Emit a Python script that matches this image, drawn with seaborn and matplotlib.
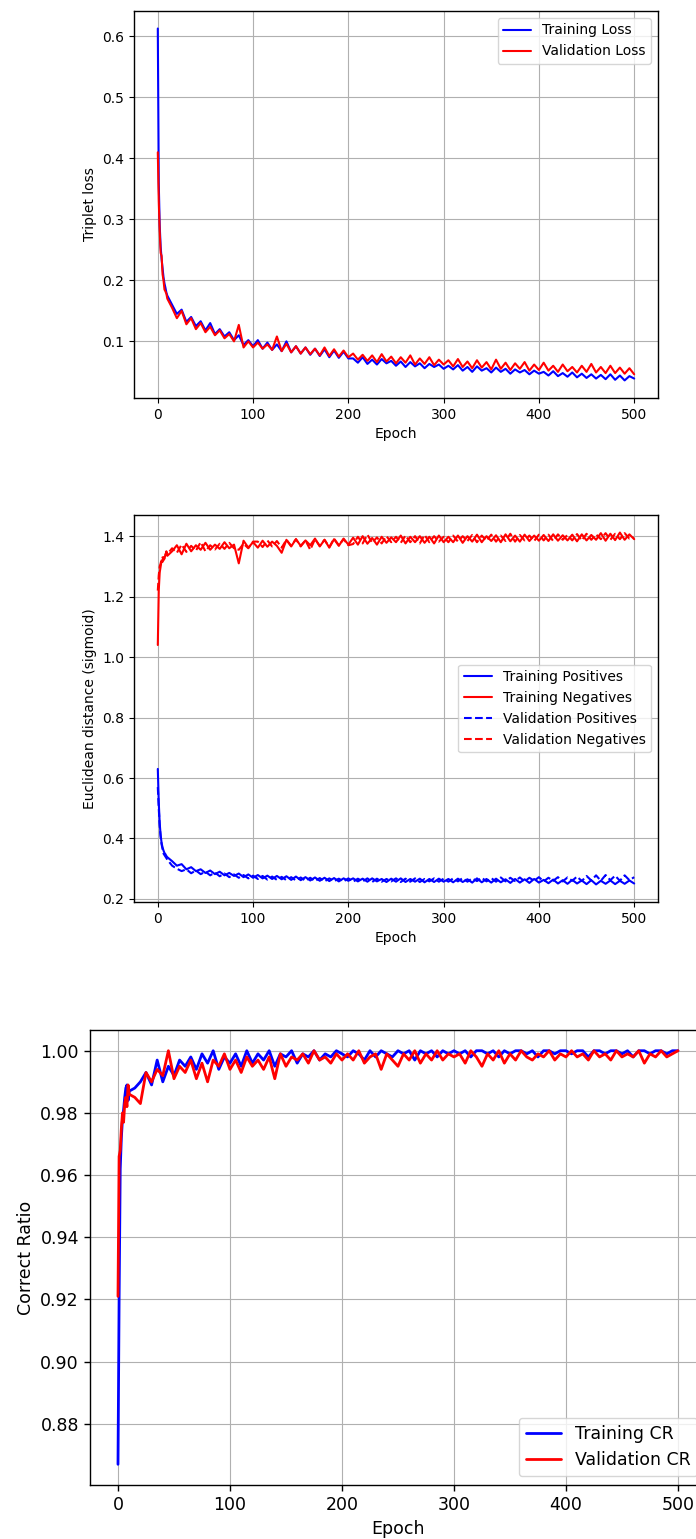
import matplotlib
matplotlib.use("Agg")
import matplotlib.pyplot as plt
import seaborn as sns

epochs = list(range(0, 11)) + list(range(15, 501, 5))

# --- triplet loss ---
train_loss = [0.613, 0.36, 0.29, 0.255, 0.235, 0.22, 0.205, 0.195, 0.188, 0.18, 0.175,
              0.16, 0.145, 0.152, 0.132, 0.14, 0.125, 0.133, 0.118, 0.13, 0.112, 0.12, 0.108, 0.115, 0.102, 0.11, 0.094, 0.102, 0.092,
              0.102, 0.088, 0.098, 0.086, 0.095, 0.084, 0.1, 0.082, 0.092, 0.08, 0.09, 0.078, 0.088, 0.076, 0.087, 0.074, 0.085, 0.073, 0.083, 0.072,
              0.072, 0.065, 0.074, 0.063, 0.07, 0.062, 0.071, 0.064, 0.068, 0.06, 0.067, 0.058, 0.066, 0.059, 0.064, 0.056, 0.063, 0.058, 0.062, 0.055,
              0.06, 0.054, 0.061, 0.052, 0.058, 0.05, 0.059, 0.052, 0.056, 0.049, 0.057, 0.05, 0.055, 0.047, 0.054, 0.049, 0.053, 0.046, 0.052, 0.047,
              0.05, 0.044, 0.051, 0.043, 0.048, 0.042, 0.049, 0.041, 0.047, 0.04, 0.046, 0.039, 0.045, 0.038, 0.046, 0.037, 0.044, 0.036, 0.043, 0.039]
val_loss = [0.41, 0.33, 0.28, 0.245, 0.24, 0.21, 0.2, 0.185, 0.182, 0.178, 0.17,
            0.155, 0.138, 0.15, 0.128, 0.138, 0.12, 0.13, 0.115, 0.124, 0.11, 0.118, 0.105, 0.112, 0.1, 0.127, 0.09, 0.1, 0.09,
            0.098, 0.088, 0.095, 0.086, 0.108, 0.084, 0.096, 0.082, 0.092, 0.08, 0.09, 0.079, 0.088, 0.077, 0.09, 0.076, 0.087, 0.075, 0.085, 0.074,
            0.08, 0.07, 0.078, 0.068, 0.077, 0.066, 0.079, 0.067, 0.075, 0.064, 0.074, 0.065, 0.077, 0.062, 0.072, 0.063, 0.074, 0.061, 0.07, 0.062,
            0.069, 0.059, 0.071, 0.058, 0.067, 0.056, 0.069, 0.057, 0.066, 0.054, 0.07, 0.055, 0.065, 0.053, 0.064, 0.055, 0.066, 0.052, 0.062, 0.053,
            0.065, 0.052, 0.06, 0.05, 0.062, 0.051, 0.058, 0.049, 0.06, 0.05, 0.063, 0.049, 0.058, 0.048, 0.06, 0.048, 0.057, 0.047, 0.056, 0.046]

# --- euclidean distances ---
train_pos = [0.63, 0.52, 0.45, 0.41, 0.385, 0.37, 0.36, 0.352, 0.348, 0.342, 0.338,
             0.325, 0.31, 0.315, 0.298, 0.305, 0.292, 0.298, 0.286, 0.294, 0.282, 0.29, 0.278, 0.286, 0.276, 0.284, 0.272, 0.281, 0.27,
             0.279, 0.268, 0.277, 0.266, 0.276, 0.265, 0.275, 0.263, 0.274, 0.262, 0.272, 0.261, 0.271, 0.26, 0.27, 0.259, 0.269, 0.258, 0.268, 0.26,
             0.268, 0.258, 0.267, 0.257, 0.268, 0.258, 0.266, 0.256, 0.267, 0.257, 0.268, 0.256, 0.266, 0.257, 0.267, 0.255, 0.266, 0.256, 0.267, 0.257,
             0.266, 0.255, 0.267, 0.256, 0.265, 0.254, 0.268, 0.255, 0.266, 0.254, 0.267, 0.255, 0.265, 0.253, 0.266, 0.254, 0.265, 0.253, 0.266, 0.254,
             0.263, 0.252, 0.264, 0.251, 0.262, 0.25, 0.263, 0.251, 0.261, 0.249, 0.262, 0.248, 0.26, 0.25, 0.261, 0.249, 0.26, 0.25, 0.261, 0.251]
val_pos = [0.57, 0.5, 0.44, 0.405, 0.38, 0.365, 0.35, 0.345, 0.34, 0.335, 0.33,
           0.31, 0.3, 0.292, 0.298, 0.285, 0.294, 0.282, 0.29, 0.278, 0.287, 0.275, 0.284, 0.272, 0.281, 0.27, 0.279, 0.268, 0.277,
           0.266, 0.276, 0.264, 0.274, 0.263, 0.273, 0.262, 0.272, 0.261, 0.271, 0.26, 0.27, 0.259, 0.269, 0.258, 0.268, 0.259, 0.267, 0.258, 0.268,
           0.257, 0.267, 0.258, 0.268, 0.256, 0.267, 0.257, 0.266, 0.258, 0.268, 0.256, 0.267, 0.257, 0.268, 0.256, 0.266, 0.258, 0.268, 0.257, 0.267,
           0.257, 0.268, 0.258, 0.269, 0.257, 0.268, 0.259, 0.27, 0.258, 0.269, 0.257, 0.271, 0.258, 0.27, 0.259, 0.271, 0.258, 0.27, 0.26, 0.272,
           0.258, 0.27, 0.26, 0.272, 0.258, 0.271, 0.26, 0.274, 0.259, 0.276, 0.261, 0.278, 0.26, 0.279, 0.262, 0.277, 0.26, 0.278, 0.262, 0.272]
train_neg = [1.04, 1.22, 1.28, 1.3, 1.32, 1.315, 1.33, 1.325, 1.34, 1.345, 1.335,
             1.35, 1.37, 1.34, 1.375, 1.35, 1.37, 1.355, 1.378, 1.355, 1.372, 1.358, 1.38, 1.36, 1.372, 1.31, 1.385, 1.362, 1.38,
             1.362, 1.385, 1.365, 1.382, 1.368, 1.345, 1.388, 1.366, 1.39, 1.368, 1.386, 1.37, 1.392, 1.366, 1.388, 1.362, 1.39, 1.368, 1.392, 1.372,
             1.395, 1.372, 1.4, 1.375, 1.394, 1.372, 1.398, 1.378, 1.396, 1.38, 1.402, 1.376, 1.398, 1.38, 1.4, 1.378, 1.398, 1.376, 1.402, 1.38,
             1.398, 1.38, 1.402, 1.378, 1.4, 1.382, 1.405, 1.38, 1.4, 1.384, 1.403, 1.38, 1.406, 1.383, 1.402, 1.382, 1.405, 1.384, 1.402, 1.385,
             1.404, 1.384, 1.406, 1.385, 1.403, 1.386, 1.405, 1.383, 1.406, 1.386, 1.404, 1.388, 1.41, 1.385, 1.408, 1.387, 1.412, 1.388, 1.406, 1.39]
val_neg = [1.22, 1.27, 1.3, 1.31, 1.325, 1.33, 1.32, 1.338, 1.335, 1.35, 1.34,
           1.36, 1.345, 1.372, 1.348, 1.368, 1.352, 1.38, 1.35, 1.37, 1.356, 1.375, 1.358, 1.378, 1.36, 1.355, 1.375, 1.36, 1.382,
           1.382, 1.364, 1.386, 1.366, 1.384, 1.362, 1.388, 1.368, 1.39, 1.366, 1.386, 1.355, 1.39, 1.368, 1.388, 1.364, 1.392, 1.37, 1.39, 1.37,
           1.374, 1.398, 1.376, 1.405, 1.378, 1.396, 1.376, 1.4, 1.38, 1.398, 1.378, 1.402, 1.38, 1.4, 1.376, 1.404, 1.38, 1.4, 1.382, 1.398,
           1.38, 1.402, 1.382, 1.4, 1.384, 1.404, 1.38, 1.402, 1.385, 1.405, 1.382, 1.402, 1.384, 1.408, 1.382, 1.404, 1.386, 1.402, 1.384, 1.405,
           1.386, 1.405, 1.384, 1.406, 1.388, 1.404, 1.386, 1.407, 1.386, 1.408, 1.388, 1.406, 1.39, 1.41, 1.388, 1.408, 1.39, 1.41, 1.392, 1.395]

# --- correct ratio ---
train_cr = [0.867, 0.92, 0.962, 0.972, 0.978, 0.981, 0.985, 0.988, 0.989, 0.984, 0.987,
            0.988, 0.99, 0.993, 0.989, 0.997, 0.99, 0.995, 0.992, 0.997, 0.995, 0.998, 0.994, 0.999, 0.996, 1.0, 0.994, 0.998, 0.996,
            0.999, 0.995, 1.0, 0.996, 0.999, 0.997, 1.0, 0.995, 0.999, 0.998, 1.0, 0.996, 0.999, 0.998, 1.0, 0.997, 0.999, 0.998, 1.0, 0.999,
            0.998, 1.0, 0.999, 0.997, 1.0, 0.998, 1.0, 0.999, 0.998, 1.0, 0.999, 1.0, 0.997, 1.0, 0.999, 1.0, 0.998, 1.0, 0.999, 1.0,
            0.999, 1.0, 0.998, 1.0, 1.0, 0.999, 1.0, 0.998, 1.0, 0.999, 1.0, 1.0, 0.999, 1.0, 0.998, 1.0, 1.0, 0.999, 1.0, 1.0,
            0.999, 1.0, 1.0, 0.998, 1.0, 1.0, 0.999, 1.0, 1.0, 0.999, 1.0, 0.998, 1.0, 1.0, 0.999, 1.0, 1.0, 0.999, 1.0, 1.0]
val_cr = [0.921, 0.966, 0.968, 0.975, 0.98, 0.977, 0.983, 0.985, 0.982, 0.989, 0.986,
          0.985, 0.983, 0.993, 0.99, 0.994, 0.992, 1.0, 0.991, 0.995, 0.993, 0.997, 0.991, 0.996, 0.99, 0.997, 0.995, 0.999, 0.994,
          0.997, 0.993, 0.998, 0.995, 0.997, 0.994, 0.998, 0.991, 0.999, 0.995, 0.998, 0.997, 0.999, 0.996, 1.0, 0.997, 0.998, 0.996, 0.999, 0.997,
          0.999, 0.997, 1.0, 0.996, 0.998, 0.999, 0.994, 0.999, 0.997, 0.995, 0.999, 0.997, 1.0, 0.996, 0.999, 0.997, 1.0, 0.997, 0.999, 0.998,
          0.999, 0.996, 1.0, 0.998, 0.995, 0.999, 0.997, 1.0, 0.996, 0.999, 0.997, 1.0, 0.998, 0.997, 0.999, 0.998, 1.0, 0.997, 0.999, 0.998,
          1.0, 0.998, 0.999, 0.997, 1.0, 0.998, 0.999, 0.997, 1.0, 0.998, 0.999, 0.998, 1.0, 0.996, 0.999, 0.998, 1.0, 0.998, 0.999, 1.0]

sns.set_theme(style="ticks")
plt.rcParams.update({
    "font.family": ["DejaVu Sans"],
    "axes.edgecolor": "black",
    "axes.linewidth": 1.0,
    "grid.color": "#b0b0b0",
    "grid.linewidth": 0.8,
    "xtick.color": "black",
    "ytick.color": "black",
    "xtick.major.size": 3.5,
    "ytick.major.size": 3.5,
    "xtick.major.width": 0.8,
    "ytick.major.width": 0.8,
    "xtick.major.pad": 3.5,
    "ytick.major.pad": 3.5,
    "axes.labelcolor": "black",
    "text.color": "black",
    "legend.framealpha": 0.8,
    "legend.edgecolor": "#cccccc",
})

fig = plt.figure(figsize=(6.96, 15.39), dpi=100)

# Plot 1: triplet loss
ax1 = fig.add_axes([0.1925, 0.7414, 0.7529, 0.2515])
sns.lineplot(x=epochs, y=train_loss, color="blue", lw=1.5, label="Training Loss", ax=ax1)
sns.lineplot(x=epochs, y=val_loss, color="red", lw=1.5, label="Validation Loss", ax=ax1)
ax1.set_yticks([0.1, 0.2, 0.3, 0.4, 0.5, 0.6])
ax1.set_xlabel("Epoch", fontsize=10)
ax1.set_ylabel("Triplet loss", fontsize=10)
ax1.tick_params(labelsize=10)
ax1.grid(True)
ax1.legend(loc="upper right", fontsize=10, fancybox=True)

# Plot 2: euclidean distances
ax2 = fig.add_axes([0.1925, 0.4139, 0.7529, 0.2515])
sns.lineplot(x=epochs, y=train_pos, color="blue", lw=1.5, label="Training Positives", ax=ax2)
sns.lineplot(x=epochs, y=train_neg, color="red", lw=1.5, label="Training Negatives", ax=ax2)
sns.lineplot(x=epochs, y=val_pos, color="blue", lw=1.5, ls="--", label="Validation Positives", ax=ax2)
sns.lineplot(x=epochs, y=val_neg, color="red", lw=1.5, ls="--", label="Validation Negatives", ax=ax2)
ax2.set_yticks([0.2, 0.4, 0.6, 0.8, 1.0, 1.2, 1.4])
ax2.set_xlabel("Epoch", fontsize=10)
ax2.set_ylabel("Euclidean distance (sigmoid)", fontsize=10)
ax2.tick_params(labelsize=10)
ax2.grid(True)
ax2.legend(loc="center right", fontsize=10, fancybox=True)

# Plot 3: correct ratio (larger, cropped on the right)
ax3 = fig.add_axes([0.1293, 0.0351, 0.885, 0.2956])
sns.lineplot(x=epochs, y=train_cr, color="blue", lw=2.0, label="Training CR", ax=ax3)
sns.lineplot(x=epochs, y=val_cr, color="red", lw=2.0, label="Validation CR", ax=ax3)
ax3.set_yticks([0.88, 0.90, 0.92, 0.94, 0.96, 0.98, 1.00])
ax3.set_xlabel("Epoch", fontsize=12.5)
ax3.set_ylabel("Correct Ratio", fontsize=12.5)
ax3.tick_params(labelsize=12.5, length=4.5, width=1.0)
ax3.grid(True)
ax3.legend(loc="lower right", fontsize=12.5, fancybox=True)

for ax in (ax1, ax2, ax3):
    ax.set_xticks([0, 100, 200, 300, 400, 500])

fig.savefig("out.png", dpi=100)
